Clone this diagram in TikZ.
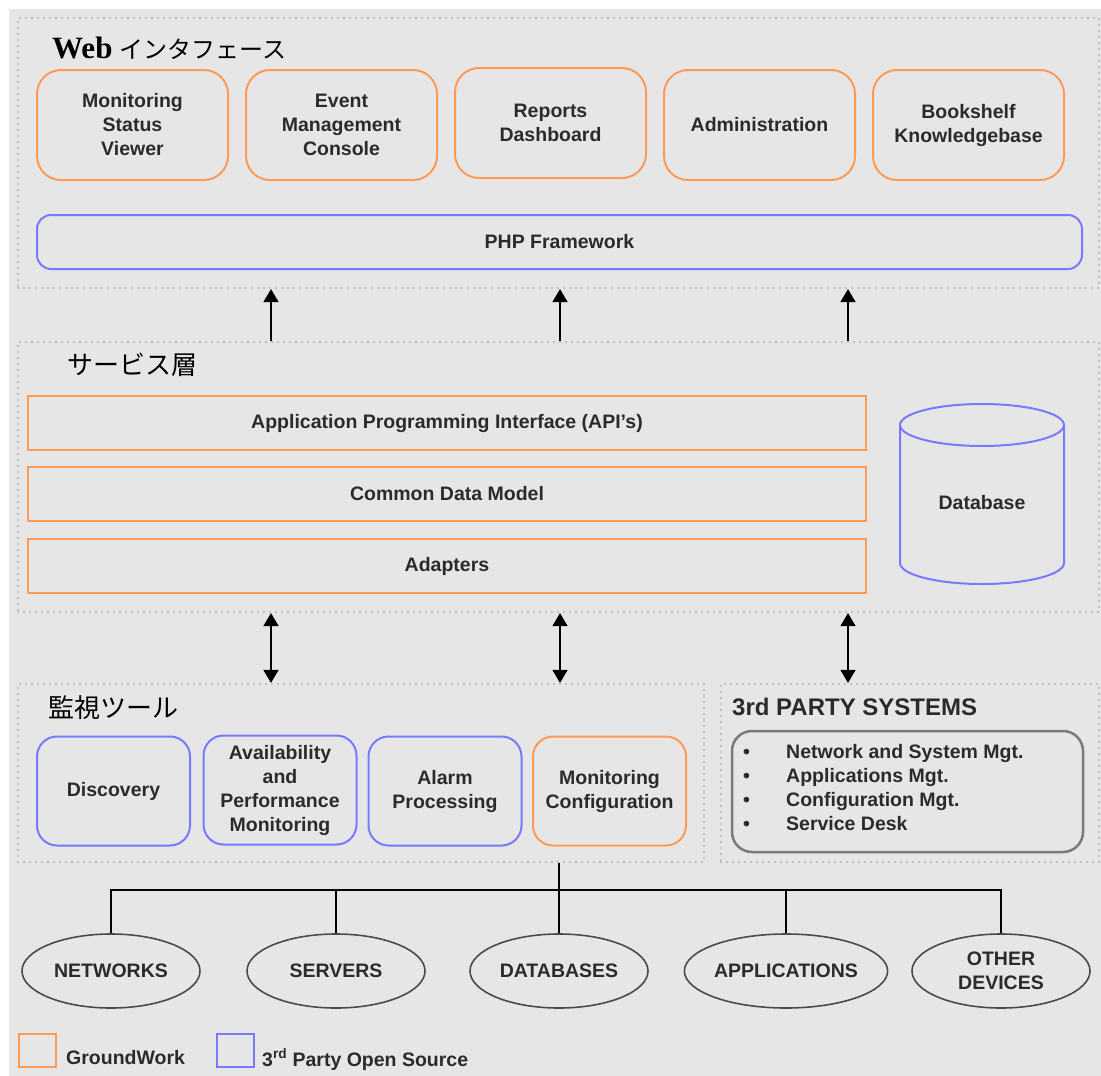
\documentclass[tikz,border=0pt]{standalone}
\usepackage{fontspec}
\setmainfont{Liberation Serif}
\setsansfont{Liberation Sans}
\newfontfamily\jpfont{Noto Sans CJK JP}
\usetikzlibrary{arrows.meta,shapes.geometric}

\definecolor{gworange}{HTML}{FF9B57}
\definecolor{osblue}{HTML}{7A7AFF}
\definecolor{panelbg}{HTML}{E6E6E6}
\definecolor{dotgray}{HTML}{B4B4B4}
\definecolor{ink}{HTML}{2B2B2B}
\definecolor{rimgray}{HTML}{7A7A7A}

\tikzset{
  lbl/.style={font=\sffamily\bfseries\fontsize{19.5}{24}\selectfont, text=ink, align=center},
  panel/.style={draw=dotgray, line width=2.2pt, dash pattern=on 0pt off 6pt,
                line cap=round, inner sep=0pt},
  gwbox/.style={lbl, draw=gworange, line width=2pt, rounded corners=24pt, inner sep=0pt},
  osbox/.style={lbl, draw=osblue, line width=2pt, rounded corners=22pt, inner sep=0pt},
  gwbar/.style={lbl, draw=gworange, line width=2pt, inner sep=0pt,
                minimum width=838pt, minimum height=54pt},
  webbox/.style={minimum width=191pt, minimum height=110pt},
  toolbox/.style={minimum width=153pt, minimum height=109pt},
  srcnode/.style={lbl, draw=ink!85, line width=1.6pt, ellipse,
                  minimum width=178pt, minimum height=74pt, inner sep=0pt},
  flow/.style={draw=black, line width=1.6pt},
  uparrow/.style={flow, -{Triangle[width=15pt,length=13pt]}},
  biarrow/.style={flow, {Triangle[width=15pt,length=13pt]}-{Triangle[width=15pt,length=13pt]}},
  heading/.style={font=\jpfont\fontsize{26}{30}\selectfont, text=black,
                  inner sep=0pt, anchor=base west},
  keybox/.style={line width=2pt, minimum width=37pt, minimum height=33pt, inner sep=0pt},
}

\begin{document}
\begin{tikzpicture}[x=1pt,y=-1pt]
\useasboundingbox (0,0) rectangle (1101,1076);
\fill[white] (0,0) rectangle (1101,1076);
\fill[panelbg] (9,9) rectangle (1101,1076);

% layer panels
\node[panel, minimum width=1081pt, minimum height=270pt] (web) at (558.5,153) {};
\node[panel, minimum width=1081pt, minimum height=270pt] (svc) at (558.5,477) {};
\node[panel, minimum width=686pt, minimum height=178pt] (mon) at (361,773) {};
\node[panel, minimum width=378pt, minimum height=178pt] (ext) at (910,773) {};

% panel headings
\node[anchor=base west, inner sep=0pt, text=black] (webtitle) at (52,58)
  {\fontsize{31}{34}\selectfont\bfseries Web\hspace{7pt}{\jpfont\mdseries\fontsize{24}{28}\selectfont インタフェース}};
\node[heading] (svctitle) at (67,374) {サービス層};
\node[heading] (montitle) at (48,717) {監視ツール};
\node[anchor=base west, inner sep=0pt, text=ink,
      font=\sffamily\bfseries\fontsize{24}{28}\selectfont] (exttitle) at (732,715) {3rd PARTY SYSTEMS};

% web interface
\node[gwbox, webbox] (msv) at (132.5,125) {Monitoring\\Status\\Viewer};
\node[gwbox, webbox] (emc) at (341.5,125) {Event\\Management\\Console};
\node[gwbox, webbox] (rep) at (550.5,123) {Reports\\Dashboard};
\node[gwbox, webbox] (adm) at (759.5,125) {Administration};
\node[gwbox, webbox] (kb)  at (968.5,125) {Bookshelf\\Knowledgebase};
\node[osbox, rounded corners=14pt, minimum width=1045pt, minimum height=54pt] (php) at (559.5,242) {PHP Framework};

% service layer
\node[gwbar] (api) at (447,423) {Application Programming Interface (API's)};
\node[gwbar] (cdm) at (447,494) {Common Data Model};
\node[gwbar] (adp) at (447,566) {Adapters};
\node[lbl] (db) at (982,503) {Database};
\draw[osblue, line width=2pt] (900,425) -- (900,563)
  arc[start angle=180, end angle=0, x radius=82, y radius=21] -- (1064,425);
\draw[osblue, line width=2pt] (982,425) ellipse[x radius=82, y radius=21];

% links between layers
\coordinate (xa) at (271,0);
\coordinate (xb) at (560,0);
\coordinate (xc) at (848,0);
\draw[uparrow] (svc.north -| xa) -- (web.south -| xa);
\draw[uparrow] (svc.north -| xb) -- (web.south -| xb);
\draw[uparrow] (svc.north -| xc) -- (web.south -| xc);
\draw[biarrow] (mon.north -| xa) -- (svc.south -| xa);
\draw[biarrow] (mon.north -| xb) -- (svc.south -| xb);
\draw[biarrow] (ext.north -| xc) -- (svc.south -| xc);

% monitoring tools
\node[osbox, toolbox, rounded corners=20pt] (dis) at (113.5,791) {Discovery};
\node[osbox, toolbox, rounded corners=20pt] (apm) at (280,790) {Availability\\and\\Performance\\Monitoring};
\node[osbox, toolbox, rounded corners=20pt] (alp) at (445,791) {Alarm\\Processing};
\node[gwbox, toolbox, rounded corners=20pt] (mcf) at (609.5,791) {Monitoring\\Configuration};

% third party systems
\node[draw=rimgray, line width=2.5pt, rounded corners=20pt, minimum width=351pt,
      minimum height=121pt, inner sep=0pt] (extbox) at (907.5,791.5) {};
\node[lbl, align=left, anchor=west, inner sep=0pt] (extlist) at (743,790)
  {\begin{tabular}{@{}p{43pt}@{}l@{}}
   \textbullet & Network and System Mgt.\\
   \textbullet & Applications Mgt.\\
   \textbullet & Configuration Mgt.\\
   \textbullet & Service Desk
   \end{tabular}};

% monitored sources
\node[srcnode] (net) at (111,971) {NETWORKS};
\node[srcnode] (srv) at (336,971) {SERVERS};
\node[srcnode] (dbs) at (559,971) {DATABASES};
\node[srcnode] (app) at (786,971) {APPLICATIONS};
\node[srcnode] (oth) at (1001,971) {OTHER\\DEVICES};

\coordinate (bus) at (559,890);
\draw[flow] (net.north) |- (bus) -| (oth.north);
\draw[flow] (srv.north) -- (srv.north |- bus);
\draw[flow] (app.north) -- (app.north |- bus);
\draw[flow] (mon.south -| dbs.north) -- (dbs.north);

% legend
\node[keybox, draw=gworange] (keygw) at (37.5,1050.5) {};
\node[lbl, anchor=base west, inner sep=0pt] (keygwtxt) at (66,1064) {GroundWork};
\node[keybox, draw=osblue] (keyos) at (235.5,1050.5) {};
\node[lbl, anchor=base west, inner sep=0pt] (keyostxt) at (262,1066) {3\textsuperscript{rd} Party Open Source};
\end{tikzpicture}
\end{document}
